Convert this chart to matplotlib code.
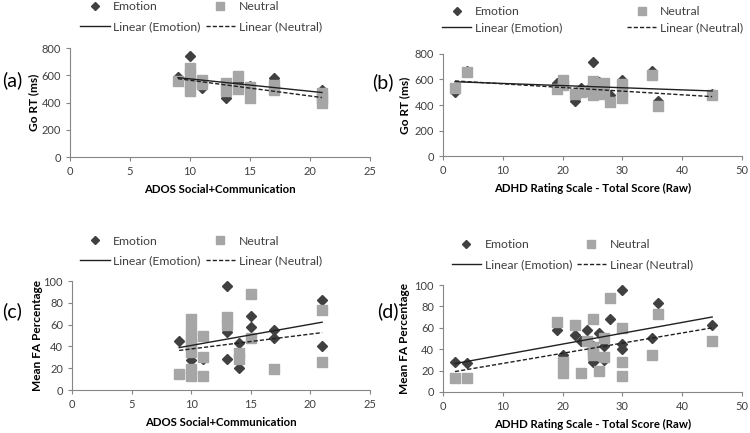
import numpy as np
import matplotlib.pyplot as plt
from matplotlib.lines import Line2D

plt.rcParams['font.family'] = ['Lato', 'DejaVu Sans']

# (a) Go RT vs ADOS
ados_emo_x = [9, 10, 10, 11, 11, 13, 13, 14, 15, 15, 17, 17, 21, 21]
rt_ados_emo = [590, 745, 560, 510, 540, 432, 520, 553, 480, 520, 578, 520, 493, 470]
ados_neu_x = [9, 10, 10, 10, 10, 11, 11, 13, 13, 14, 14, 15, 15, 17, 17, 21, 21, 21]
rt_ados_neu = [560, 650, 600, 540, 485, 565, 534, 541, 487, 597, 499, 511, 431, 528, 492, 467, 430, 394]

# (b) Go RT vs ADHD
adhd_emo_x = [2, 4, 19, 20, 22, 23, 24, 25, 25, 25, 26, 27, 27, 28, 30, 30, 35, 36, 45]
rt_adhd_emo = [505, 670, 575, 560, 432, 536, 520, 740, 520, 490, 583, 540, 500, 478, 596, 500, 670, 431, 490]
adhd_neu_x = [2, 4, 19, 20, 20, 22, 23, 24, 25, 25, 25, 26, 27, 27, 28, 30, 30, 30, 35, 36, 45]
rt_adhd_neu = [530, 656, 525, 595, 555, 485, 500, 510, 585, 545, 478, 520, 570, 490, 426, 565, 500, 452, 632, 392, 477]

# (c) FA vs ADOS
ados_emo_x2 = [9, 10, 10, 11, 11, 13, 13, 13, 14, 14, 15, 15, 17, 17, 21, 21]
fa_ados_emo = [45, 58, 27.5, 29, 28, 95, 53, 28, 43, 20, 68, 58, 55, 47.5, 83, 40]
ados_neu_x2 = [9, 10, 10, 10, 10, 10, 10, 10, 11, 11, 11, 13, 13, 14, 14, 15, 15, 17, 21, 21]
fa_ados_neu = [15, 65, 55, 48, 42, 35, 19, 13, 50, 30, 13, 67, 60, 34, 28, 88, 48, 19, 73, 26]

# (d) FA vs ADHD
adhd_emo_x2 = [2, 4, 19, 20, 22, 23, 24, 25, 25, 26, 27, 27, 28, 30, 30, 30, 35, 36, 45]
fa_adhd_emo = [28, 27, 58, 35, 53, 48, 58, 43, 28, 55, 43, 30, 68, 95, 45, 40, 50, 83, 63]
adhd_neu_x2 = [2, 4, 19, 20, 20, 22, 23, 24, 25, 25, 25, 25, 26, 27, 27, 28, 30, 30, 30, 35, 36, 45]
fa_adhd_neu = [13, 13, 65, 28, 18, 63, 18, 48, 68, 42, 38, 35, 20, 50, 33, 88, 60, 28, 15, 35, 73, 48]

EMO_C = '#404040'
NEU_C = '#a6a6a6'
AX_C = '#868686'
TXT_C = '#404040'
DASH = (0, (3, 1.5))

fig = plt.figure(figsize=(7.5, 4.33), dpi=100)


def trend(ax, x, y, ls):
    x = np.array(x, float)
    k, b = np.polyfit(x, y, 1)
    xs = np.array([x.min(), x.max()])
    ax.plot(xs, k * xs + b, color='#202020', lw=1, ls=ls, zorder=5)


def panel(rect, ex, ey, nx, ny, xlim, xstep, ylim, ystep, xlabel, ylabel,
          tag, tagpos, ylabx, legpos, colsp, labsp):
    ax = fig.add_axes(rect)
    ax.plot(ex, ey, ls='none', marker='D', ms=5.5, color=EMO_C, zorder=3)
    ax.plot(nx, ny, ls='none', marker='s', ms=7.2, color=NEU_C, zorder=4)
    trend(ax, ex, ey, '-')
    trend(ax, nx, ny, DASH)
    ax.set_xlim(*xlim)
    ax.set_ylim(*ylim)
    ax.set_xticks(np.arange(xlim[0], xlim[1] + 1, xstep))
    ax.set_yticks(np.arange(ylim[0], ylim[1] + 1, ystep))
    for s in ['top', 'right']:
        ax.spines[s].set_visible(False)
    for s in ['left', 'bottom']:
        ax.spines[s].set_color(AX_C)
    ax.tick_params(colors=AX_C, labelcolor=TXT_C, labelsize=8, length=3,
                   direction='out')
    ax.set_xlabel(xlabel, fontsize=8.2, fontweight='bold', color='black', labelpad=5)
    ax.set_ylabel(ylabel, fontsize=8.6, fontweight='bold', color='black')
    ax.yaxis.set_label_coords(ylabx, 0.5)
    fig.text(tagpos[0], tagpos[1], tag, fontsize=14, color='black',
             ha='left', va='center')
    handles = [
        Line2D([], [], ls='none', marker='D', ms=4.5, color=EMO_C),
        Line2D([], [], color='#202020', lw=1),
        Line2D([], [], ls='none', marker='s', ms=5.5, color=NEU_C),
        Line2D([], [], color='#202020', lw=1, ls=DASH),
    ]
    labels = ['Emotion', 'Linear (Emotion)', 'Neutral', 'Linear (Neutral)']
    fig.legend(handles, labels, loc='center', bbox_to_anchor=legpos, ncol=2,
               frameon=False, fontsize=8.8, handlelength=2.4, handletextpad=0.3,
               columnspacing=colsp, labelspacing=labsp, labelcolor=TXT_C,
               borderpad=0)
    return ax


panel([0.0933, 0.6374, 0.4, 0.2517], ados_emo_x, rt_ados_emo, ados_neu_x, rt_ados_neu,
      (0, 25), 5, (0, 800), 200, 'ADOS Social+Communication', 'Go RT (ms)',
      '(a)', (0.003, 0.815), -0.103, (0.268, 0.961), 0.4, 0.75)
panel([0.5907, 0.6397, 0.3987, 0.2356], adhd_emo_x, rt_adhd_emo, adhd_neu_x, rt_adhd_neu,
      (0, 50), 10, (0, 800), 200, 'ADHD Rating Scale - Total Score (Raw)', 'Go RT (ms)',
      '(b)', (0.496, 0.81), -0.11, (0.79, 0.954), 5.3, 0.45)
panel([0.096, 0.0993, 0.397, 0.2517], ados_emo_x2, fa_ados_emo, ados_neu_x2, fa_ados_neu,
      (0, 25), 5, (0, 100), 20, 'ADOS Social+Communication', 'Mean FA Percentage',
      '(c)', (0.003, 0.282), -0.097, (0.268, 0.42), 0.4, 0.75)
panel([0.5907, 0.0947, 0.3987, 0.2471], adhd_emo_x2, fa_adhd_emo, adhd_neu_x2, fa_adhd_neu,
      (0, 50), 10, (0, 100), 20, 'ADHD Rating Scale - Total Score (Raw)', 'Mean FA Percentage',
      '(d)', (0.503, 0.282), -0.11, (0.763, 0.411), 0.4, 0.75)

fig.savefig('out.png', dpi=100)
